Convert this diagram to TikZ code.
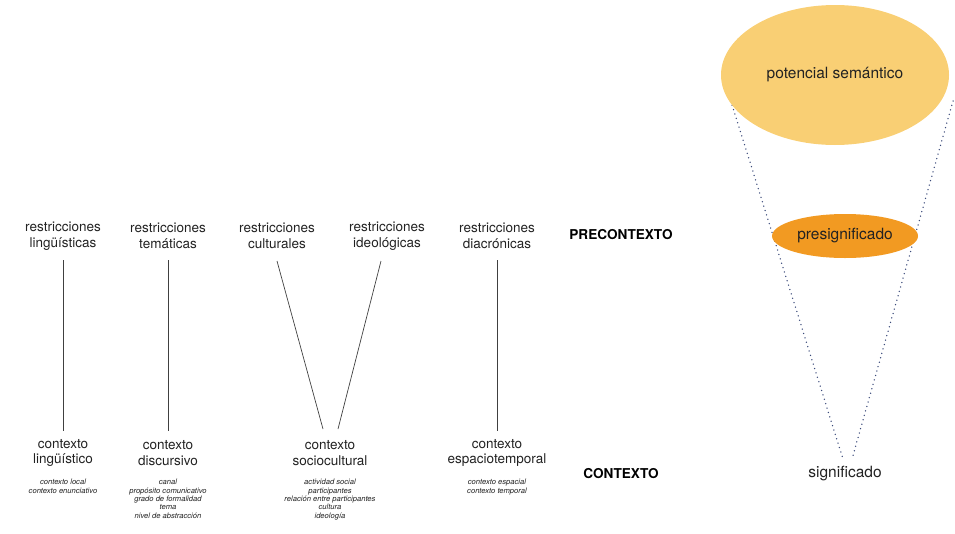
\documentclass[tikz,border=0pt]{standalone}
\usepackage{fontspec}
\usetikzlibrary{shapes.geometric}
\setmainfont{TeX Gyre Heros}
\definecolor{txt}{HTML}{222222}
\definecolor{bigfill}{HTML}{F9CF74}
\definecolor{midfill}{HTML}{F29A22}
\definecolor{dotc}{HTML}{3A4A7A}
\begin{document}
\begin{tikzpicture}[x=1pt,y=-1pt,
  lab/.style={align=center,font=\fontsize{13.5}{15.8}\selectfont,text=txt,inner sep=1pt},
  small/.style={align=center,font=\fontsize{7.6}{8.4}\selectfont\itshape,text=txt,inner sep=0pt},
  head/.style={font=\fontsize{13.6}{15}\selectfont\bfseries,text=black},
  big/.style={font=\fontsize{15.5}{17}\selectfont,text=txt},
  link/.style={draw=black!75,line width=0.7pt},
  dots/.style={draw=dotc,line width=1.5pt,line cap=round,dash pattern=on 0pt off 4.6pt}]
\useasboundingbox (0,0) rectangle (955,533);
% restrictions
\node[lab] (r1) at (63,236) {restricciones\\lingüísticas};
\node[lab] (r2) at (168,236) {restricciones\\temáticas};
\node[lab] (r3) at (277,236) {restricciones\\culturales};
\node[lab] (r4) at (387,236) {restricciones\\ideológicas};
\node[lab] (r5) at (497,236) {restricciones\\diacrónicas};
\node[head] (pre) at (621,235) {PRECONTEXTO};
% contexts
\node[lab] (c1) at (63,453) {contexto\\lingüístico};
\node[lab] (c2) at (168,453) {contexto\\discursivo};
\node[lab] (c3) at (330,453) {contexto\\sociocultural};
\node[lab] (c5) at (497,453) {contexto\\espaciotemporal};
\node[head] (con) at (621,474) {CONTEXTO};
% details
\node[small,anchor=north] (d1) at (63,479) {contexto local\\contexto enunciativo};
\node[small,anchor=north] (d2) at (168,479) {canal\\propósito comunicativo\\grado de formalidad\\tema\\nivel de abstracción};
\node[small,anchor=north] (d3) at (330,479) {actividad social\\participantes\\relación entre participantes\\cultura\\ideología};
\node[small,anchor=north] (d5) at (497,479) {contexto espacial\\contexto temporal};
% connectors
\coordinate (a1) at (63,260); \coordinate (b1) at (63,431);
\coordinate (a2) at (168,260); \coordinate (b2) at (168,431);
\coordinate (a3) at (277,261); \coordinate (b3) at (323,429);
\coordinate (a4) at (381,261); \coordinate (b4) at (338,429);
\coordinate (a5) at (497,260); \coordinate (b5) at (497,431);
\draw[link] (a1) -- (b1);
\draw[link] (a2) -- (b2);
\draw[link] (a3) -- (b3);
\draw[link] (a4) -- (b4);
\draw[link] (a5) -- (b5);
% right side
\coordinate (t1) at (728,92); \coordinate (t2) at (953,101);
\coordinate (s1) at (843,459); \coordinate (s2) at (852,459);
\draw[dots] (t1) -- (s1);
\draw[dots] (t2) -- (s2);
\node[draw=none,fill=bigfill,ellipse,minimum width=228pt,minimum height=140pt,inner sep=0pt] (pot) at (835,75) {};
\node[big] at (pot.center) {potencial semántico};
\node[fill=midfill,ellipse,minimum width=146pt,minimum height=44pt,inner sep=0pt,big] (pres) at (845,236) {presignificado};
\node[big] (sig) at (845,474) {significado};
\end{tikzpicture}
\end{document}
